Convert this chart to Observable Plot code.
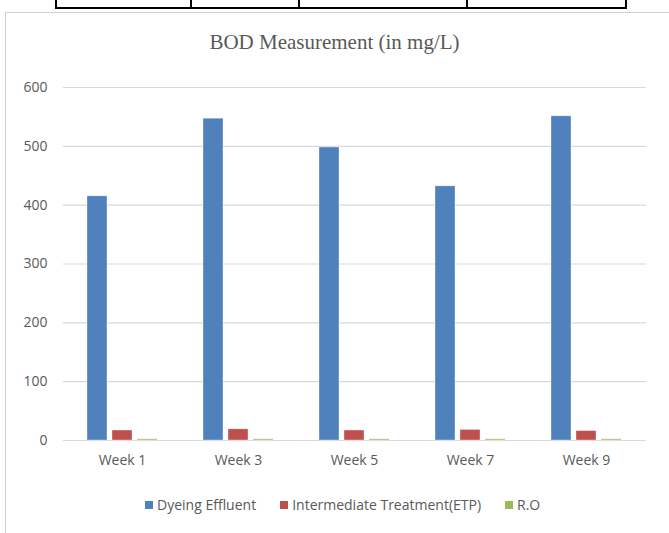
<!DOCTYPE html>
<html><head><meta charset="utf-8">
<script src="https://cdn.jsdelivr.net/npm/d3@7"></script>
<script src="https://cdn.jsdelivr.net/npm/@observablehq/plot@0.6"></script>
<style>
body{margin:0;background:#fff;width:669px;height:533px;overflow:hidden;position:relative;font-family:"Open Sans",sans-serif;}
.abs{position:absolute;}
#title{position:absolute;left:0;width:669px;top:30px;text-align:center;font-family:"Liberation Serif",serif;font-size:21px;color:#595959;}
#grid,#chart{position:absolute;left:0;top:60px;}
#legend{position:absolute;left:145px;top:495px;display:flex;gap:24px;font-size:14px;color:#595959;}
#legend span.item{display:flex;align-items:center;gap:4px;}
#legend i{display:inline-block;width:8px;height:8px;}
</style></head>
<body>
<div class="abs" style="left:55px;top:7px;width:572px;height:2px;background:#000"></div>
<div class="abs" style="left:55px;top:0;width:2px;height:9px;background:#000"></div>
<div class="abs" style="left:190px;top:0;width:2px;height:9px;background:#000"></div>
<div class="abs" style="left:298px;top:0;width:2px;height:9px;background:#000"></div>
<div class="abs" style="left:466px;top:0;width:2px;height:9px;background:#000"></div>
<div class="abs" style="left:625px;top:0;width:2px;height:9px;background:#000"></div>
<div class="abs" style="left:5px;top:12px;width:664px;height:1px;background:#d0d0d0"></div>
<div class="abs" style="left:5px;top:12px;width:1px;height:521px;background:#d0d0d0"></div>
<div id="title">BOD Measurement (in mg/L)</div>
<div id="grid"></div>
<div id="chart"></div>
<div id="legend"></div>
<script>
const weeks = ["Week 1","Week 3","Week 5","Week 7","Week 9"];
const series = ["Dyeing Effluent","Intermediate Treatment(ETP)","R.O"];
const dyeing = [415,547,498,432,551];
const etp = [17,19,17,18,16];
const ro = [2,2,2,2,2];
const colors = ["#4f81bd","#c0504d","#9bbb59"];
const yTicks = [0,100,200,300,400,500,600];

const values = [dyeing, etp, ro];
const data = [];
weeks.forEach((w,i)=>series.forEach((s,j)=>data.push({week:w, series:s, value:values[j][i]})));

const common = {
  width: 669, height: 420,
  marginLeft: 63, marginRight: 23, marginTop: 27, marginBottom: 40,
  style: {fontFamily:"Open Sans", fontSize:"14px", color:"#595959", background:"transparent"},
  y: {domain: [0,600], label: null}
};

const grid = Plot.plot({
  ...common,
  marks: [
    Plot.ruleY(yTicks, {stroke:"#d9d9d9", strokeWidth:1.2}),
    Plot.axisY(yTicks, {tickSize:0, tickPadding:16, label:null})
  ]
});
document.getElementById("grid").appendChild(grid);

const plot = Plot.plot({
  ...common,
  fx: {domain: weeks, paddingInner: 0.377, paddingOuter: 0.1885, label: null},
  x: {domain: series, paddingInner: 0.2, paddingOuter: 0, axis: null},
  color: {domain: series, range: colors},
  marks: [
    Plot.barY(data, {fx:"week", x:"series", y:"value", fill:"series", stroke:"white", strokeWidth:0.6, strokeOpacity:0.6}),
    Plot.axisFx({anchor:"bottom", tickSize:0, tickPadding:15, label:null}),
    Plot.axisY({ticks: [], label: null, tickSize: 0})
  ]
});
document.getElementById("chart").appendChild(plot);

const lg = document.getElementById("legend");
series.forEach((s,j)=>{
  const it = document.createElement("span"); it.className="item";
  const sw = document.createElement("i"); sw.style.background = colors[j];
  const t = document.createElement("span"); t.textContent = s;
  it.appendChild(sw); it.appendChild(t); lg.appendChild(it);
});
</script>
</body></html>
